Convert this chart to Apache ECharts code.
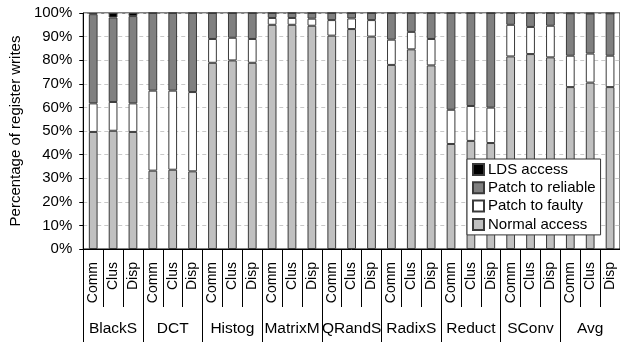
<!DOCTYPE html>
<html>
<head>
<meta charset="utf-8">
<script src="https://cdn.jsdelivr.net/npm/echarts@6/dist/echarts.min.js"></script>
<style>html,body{margin:0;padding:0;background:#fff}#c{width:620px;height:342px}</style>
</head>
<body>
<div id="c"></div>
<script>
const groups = ["BlackS","DCT","Histog","MatrixM","QRandS","RadixS","Reduct","SConv","Avg"];
const configs = ["Comm","Clus","Disp"];
const normalAccess   = [49.6,50.1,49.6, 33.2,33.6,32.9, 78.9,79.9,78.9, 95.0,95.0,94.6, 90.4,93.2,90.0, 78.0,84.6,77.8, 44.5,45.8,44.9, 81.6,82.6,81.2, 68.6,70.5,68.6];
const patchFaulty    = [12.1,12.2,12.1, 33.9,33.5,33.6, 10.1,9.6,10.1,  2.9,2.9,3.0,    6.6,4.5,7.0,    10.7,7.4,11.2,  14.5,14.8,15.0, 13.4,11.5,13.4, 13.3,12.3,13.3];
const patchReliable  = [37.8,35.8,37.0, 32.9,32.9,33.5, 11.0,10.5,11.0, 2.1,2.1,2.4,    3.0,2.3,3.0,    11.3,8.0,11.0,  41.0,39.4,40.1, 5.0,5.9,5.4,    18.0,17.0,17.95];
const ldsAccess      = [0.5,1.9,1.3,    0,0,0,          0,0,0,          0,0,0,          0,0,0,          0,0,0,          0,0,0,          0,0,0,          0.1,0.2,0.15];
const yTicks = [0,10,20,30,40,50,60,70,80,90,100];

const cats = [];
groups.forEach(g => configs.forEach(c => cats.push(c)));

const FONT = "'Liberation Sans', Arial, sans-serif";
const chart = echarts.init(document.getElementById('c'));
function bar(name, data, color) {
  return {
    name, type: 'bar', stack: 'all', data, barWidth: '44%',
    itemStyle: { color, borderColor: '#3a3a3a', borderWidth: 1 },
    xAxisIndex: 0, yAxisIndex: 0, animation: false
  };
}
chart.setOption({
  animation: false,
  textStyle: { fontFamily: FONT, color: '#000' },
  grid: { left: 79, top: 13, width: 542, height: 236, show: true, borderColor: '#000', borderWidth: 1 },
  legend: {
    orient: 'vertical', left: 467, top: 159,
    data: ['LDS access','Patch to reliable','Patch to faulty','Normal access'],
    icon: 'rect', itemWidth: 11, itemHeight: 11, itemGap: 3.3,
    padding: [3, 5, 3, 5],
    backgroundColor: '#fff', borderColor: '#333', borderWidth: 1,
    textStyle: { fontFamily: FONT, fontSize: 15, color: '#000', padding: [0,0,0,-1] }
  },
  xAxis: [
    {
      type: 'category', data: cats, position: 'bottom',
      axisLine: { show: true, lineStyle: { color: '#000', width: 1 } },
      axisTick: { show: true, interval: 0, length: 58, lineStyle: { color: '#000' } },
      axisLabel: { interval: 0, rotate: 90, margin: 13, fontSize: 14, fontFamily: FONT, color: '#000' }
    },
    {
      type: 'category', data: groups, position: 'bottom', offset: 0,
      axisLine: { show: false },
      axisTick: { show: true, interval: 0, length: 93, lineStyle: { color: '#000' } },
      axisLabel: { interval: 0, margin: 72, fontSize: 15.5, fontFamily: FONT, color: '#000' }
    }
  ],
  yAxis: {
    type: 'value', min: yTicks[0], max: yTicks[yTicks.length-1], interval: 10,
    name: 'Percentage of register writes', nameLocation: 'middle', nameGap: 52,
    nameTextStyle: { fontSize: 15, fontFamily: FONT, color: '#000' },
    axisLine: { show: true, lineStyle: { color: '#000' } },
    axisTick: { show: true, length: 4, lineStyle: { color: '#000' } },
    axisLabel: { formatter: '{value}%', margin: 11, fontSize: 15, fontFamily: FONT, color: '#000' },
    splitLine: { show: true, lineStyle: { color: '#c8c8c8', type: [4, 3], width: 1 } }
  },
  series: [
    bar('Normal access', normalAccess, '#c0c0c0'),
    bar('Patch to faulty', patchFaulty, '#ffffff'),
    bar('Patch to reliable', patchReliable, '#808080'),
    bar('LDS access', ldsAccess, '#000000')
  ]
});
</script>
</body>
</html>
